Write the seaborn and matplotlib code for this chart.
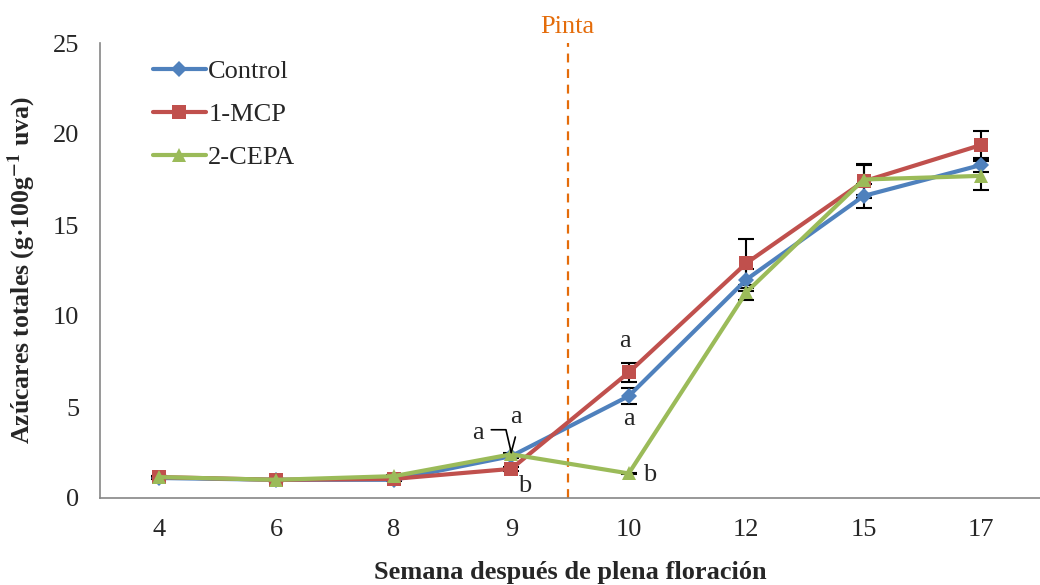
import numpy as np
import pandas as pd
import matplotlib
matplotlib.use("Agg")
import matplotlib.pyplot as plt
from matplotlib.lines import Line2D
import seaborn as sns

weeks = ["4", "6", "8", "9", "10", "12", "15", "17"]
control = [1.1, 1.0, 1.0, 2.3, 5.6, 12.0, 16.6, 18.3]
mcp = [1.15, 1.0, 1.05, 1.6, 6.9, 12.9, 17.4, 19.4]
cepa = [1.15, 1.0, 1.2, 2.4, 1.35, 11.3, 17.5, 17.7]
control_err = [0.05, 0.05, 0.05, 0.1, 0.45, 0.6, 0.65, 0.4]
mcp_err = [0.05, 0.05, 0.05, 0.1, 0.5, 1.35, 0.9, 0.75]
cepa_err = [0.05, 0.05, 0.05, 0.1, 0.05, 0.4, 0.85, 0.8]
series_names = ["Control", "1-MCP", "2-CEPA"]
colors = ["#4F81BD", "#C0504D", "#9BBB59"]
markers = ["D", "s", "^"]
msizes = [8, 10, 10]

sns.set_style("white")
plt.rcParams["font.family"] = ["Liberation Serif", "DejaVu Serif"]
plt.rcParams["mathtext.fontset"] = "stix"

df = pd.DataFrame({
    "semana": weeks * 3,
    "valor": control + mcp + cepa,
    "trat": [n for n in series_names for _ in weeks],
})

fig = plt.figure(figsize=(10.4, 5.85), dpi=100)
ax = fig.add_axes([100 / 1040, 1 - 498 / 585, 940 / 1040, (498 - 43) / 585])

all_vals = [control, mcp, cepa]
all_errs = [control_err, mcp_err, cepa_err]
pos = np.arange(len(weeks))
for vals, errs in zip(all_vals, all_errs):
    ax.errorbar(pos, vals, yerr=errs, fmt="none", ecolor="black",
                elinewidth=1.5, capsize=6, capthick=1.5, zorder=1)

for name, col, mk, ms in zip(series_names, colors, markers, msizes):
    sub = df[df["trat"] == name]
    sns.pointplot(data=sub, x="semana", y="valor", order=weeks, color=col,
                  markers=mk, errorbar=None, ax=ax, legend=False,
                  linewidth=3, markersize=ms, markeredgewidth=0)

fs = 19
ax.set_xlim(-0.5, -0.5 + 940 / 119)
ax.set_ylim(0, 25)
ax.set_yticks([0, 5, 10, 15, 20, 25])
ax.set_xticks(pos)
ax.set_xticklabels(weeks)
ax.set_xticks(np.arange(-0.5, 8, 1.0), minor=True)
ax.tick_params(axis="x", which="major", length=0, labelsize=fs, pad=15)
ax.tick_params(axis="x", which="minor", length=7, color="#868686", width=1.2, direction="out")
ax.tick_params(axis="y", which="major", length=7, color="#868686", width=1.2,
               direction="out", labelsize=fs, pad=8)
for s in ["top", "right"]:
    ax.spines[s].set_visible(False)
for s in ["left", "bottom"]:
    ax.spines[s].set_color("#868686")
    ax.spines[s].set_linewidth(1.2)
ax.grid(False)

ax.set_xlabel("Semana después de plena floración", fontsize=19, fontweight="bold")
ax.set_ylabel(r"Azúcares totales (g·100g$^{\mathbf{-1}}$ uva)", fontsize=18.5, fontweight="bold")
ax.xaxis.set_label_coords(0.5, -0.138)
ax.yaxis.set_label_coords(-0.066, 0.5)

# Pinta line
ax.axvline(3.48, color="#E46C0A", linestyle=(0, (4, 3)), linewidth=1.6, zorder=0)
ax.text(3.48, 25.3, "Pinta", color="#E46C0A", fontsize=fs, ha="center", va="bottom")

# significance letters
ax.text(2.72, 3.55, "a", fontsize=fs, ha="center", va="center")
ax.text(3.04, 4.45, "a", fontsize=fs, ha="center", va="center")
ax.plot([2.83, 2.955, 3.0], [3.75, 3.75, 2.5], color="black", lw=1.2)
ax.plot([3.035, 3.0], [3.35, 2.5], color="black", lw=1.2)
ax.text(3.11, 0.65, "b", fontsize=fs, ha="center", va="center")
ax.text(3.97, 8.6, "a", fontsize=fs, ha="center", va="center")
ax.text(4.0, 4.35, "a", fontsize=fs, ha="center", va="center")
ax.text(4.18, 1.25, "b", fontsize=fs, ha="center", va="center")

handles = [Line2D([0], [0], color=c, lw=3, marker=m, markersize=ms, markeredgewidth=0)
           for c, m, ms in zip(colors, markers, msizes)]
leg = ax.legend(handles, series_names, loc="upper left", bbox_to_anchor=(0.031, 1.016),
                frameon=False, fontsize=fs, handlelength=2.0, handletextpad=0.1,
                labelspacing=0.75)

fig.savefig("out.png", dpi=100)
